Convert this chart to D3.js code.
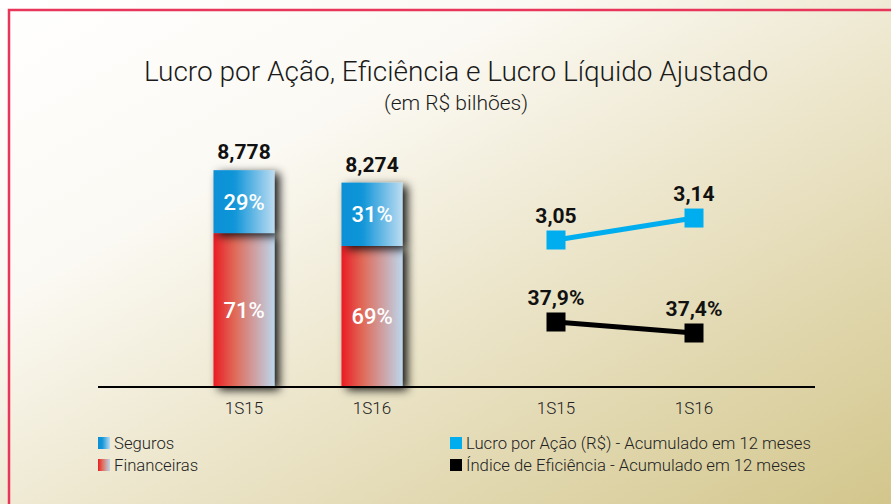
<!DOCTYPE html>
<html>
<head>
<meta charset="utf-8">
<script src="https://cdn.jsdelivr.net/npm/d3@7"></script>
<style>
  body { margin: 0; background: #fff; }
  svg { display: block; font-family: Roboto, "Open Sans", sans-serif; }
</style>
</head>
<body>
<div id="chart"></div>
<script>
// Dados do grafico
var barCategories = ["1S15", "1S16"];
var barTotals = [8.778, 8.274];
var barTotalLabels = ["8,778", "8,274"];
var segurosPct = [29, 31];
var financeirasPct = [71, 69];

var lineCategories = ["1S15", "1S16"];
var lucroPorAcao = [3.05, 3.14];
var lucroLabels = ["3,05", "3,14"];
var eficiencia = [37.9, 37.4];
var eficienciaLabels = ["37,9%", "37,4%"];

var W = 891, H = 504;
var svg = d3.select("#chart").append("svg")
    .attr("width", W)
    .attr("height", H);

var defs = svg.append("defs");

// fundo em degrade
var bg = defs.append("linearGradient").attr("id", "bg")
    .attr("x1", "0%").attr("y1", "0%").attr("x2", "100%").attr("y2", "100%");
bg.append("stop").attr("offset", "0%").attr("stop-color", "#ffffff");
bg.append("stop").attr("offset", "30%").attr("stop-color", "#fbf9f3");
bg.append("stop").attr("offset", "60%").attr("stop-color", "#eae3c6");
bg.append("stop").attr("offset", "100%").attr("stop-color", "#d3c68c");

var gBlue = defs.append("linearGradient").attr("id", "gBlue")
    .attr("x1", "0%").attr("x2", "100%").attr("y1", "0%").attr("y2", "0%");
gBlue.append("stop").attr("offset", "0%").attr("stop-color", "#0a8fd6");
gBlue.append("stop").attr("offset", "35%").attr("stop-color", "#1296d8");
gBlue.append("stop").attr("offset", "100%").attr("stop-color", "#bcdcf2");

var gRed = defs.append("linearGradient").attr("id", "gRed")
    .attr("x1", "0%").attr("x2", "100%").attr("y1", "0%").attr("y2", "0%");
gRed.append("stop").attr("offset", "0%").attr("stop-color", "#ea1c24");
gRed.append("stop").attr("offset", "35%").attr("stop-color", "#e06a58");
gRed.append("stop").attr("offset", "100%").attr("stop-color", "#bcd6ec");

var shadow = defs.append("filter").attr("id", "shadow")
    .attr("x", "-30%").attr("y", "-20%").attr("width", "180%").attr("height", "150%");
shadow.append("feDropShadow")
    .attr("dx", 5).attr("dy", 3)
    .attr("stdDeviation", 5)
    .attr("flood-color", "#000")
    .attr("flood-opacity", 0.9);

svg.append("rect")
    .attr("width", W).attr("height", H)
    .attr("fill", "url(#bg)");

// borda
svg.append("path")
    .attr("d", "M9,504 V10 H891")
    .attr("fill", "none")
    .attr("stroke", "#e8365a")
    .attr("stroke-width", 2.5);

// titulo
svg.append("text")
    .attr("x", 456).attr("y", 81)
    .attr("text-anchor", "middle")
    .attr("font-size", 28)
    .attr("font-weight", 300)
    .attr("fill", "#1a1a1a")
    .text("Lucro por Ação, Eficiência e Lucro Líquido Ajustado");

svg.append("text")
    .attr("x", 456).attr("y", 110)
    .attr("text-anchor", "middle")
    .attr("font-size", 21)
    .attr("font-weight", 300)
    .attr("fill", "#1a1a1a")
    .text("(em R$ bilhões)");

var baseY = 387;

// escalas das barras
var xBar = d3.scalePoint().domain(barCategories).range([244, 372]);
var barW = 61;
var yBar = d3.scaleLinear().domain([0, 10]).range([baseY, baseY - 247]);

var barData = barCategories.map(function(c, i) {
    return { cat: c, total: barTotals[i], label: barTotalLabels[i], seg: segurosPct[i], fin: financeirasPct[i] };
});

var bars = svg.selectAll(".bar").data(barData).enter()
    .append("g").attr("class", "bar");

// financeiras (parte de baixo)
bars.append("rect")
    .attr("x", function(d) { return xBar(d.cat) - barW / 2; })
    .attr("y", function(d) { return yBar(d.total * d.fin / 100); })
    .attr("width", barW)
    .attr("height", function(d) { return baseY - yBar(d.total * d.fin / 100); })
    .attr("fill", "url(#gRed)")
    .attr("filter", "url(#shadow)");

// seguros (parte de cima)
bars.append("rect")
    .attr("x", function(d) { return xBar(d.cat) - barW / 2; })
    .attr("y", function(d) { return yBar(d.total); })
    .attr("width", barW)
    .attr("height", function(d) { return yBar(d.total * d.fin / 100) - yBar(d.total); })
    .attr("fill", "url(#gBlue)")
    .attr("filter", "url(#shadow)");

bars.append("text")
    .attr("x", function(d) { return xBar(d.cat); })
    .attr("y", function(d) { return (yBar(d.total) + yBar(d.total * d.fin / 100)) / 2 + 8; })
    .attr("text-anchor", "middle")
    .attr("font-size", 22).attr("font-weight", 500)
    .attr("fill", "#fff")
    .text(function(d) { return d.seg + "%"; });

bars.append("text")
    .attr("x", function(d) { return xBar(d.cat); })
    .attr("y", function(d) { return (baseY + yBar(d.total * d.fin / 100)) / 2 + 8; })
    .attr("text-anchor", "middle")
    .attr("font-size", 22).attr("font-weight", 500)
    .attr("fill", "#fff")
    .text(function(d) { return d.fin + "%"; });

bars.append("text")
    .attr("x", function(d) { return xBar(d.cat); })
    .attr("y", function(d) { return yBar(d.total) - 11; })
    .attr("text-anchor", "middle")
    .attr("font-size", 21).attr("font-weight", 700)
    .attr("fill", "#111")
    .text(function(d) { return d.label; });

// linhas
var xLine = d3.scalePoint().domain(lineCategories).range([556, 694]);
var yLucro = d3.scaleLinear().domain([3.0, 3.2]).range([252.2, 203.4]);
var yEfic = d3.scaleLinear().domain([37.0, 38.5]).range([341.8, 308.8]);

function drawSeries(values, labels, yScale, color, cls) {
    var pts = values.map(function(v, i) { return { cat: lineCategories[i], v: v, label: labels[i] }; });
    svg.append("path")
        .datum(pts)
        .attr("fill", "none")
        .attr("stroke", color)
        .attr("stroke-width", 5)
        .attr("d", d3.line()
            .x(function(d) { return xLine(d.cat); })
            .y(function(d) { return yScale(d.v); }));
    svg.selectAll("." + cls).data(pts).enter()
        .append("rect").attr("class", cls)
        .attr("x", function(d) { return xLine(d.cat) - 9.5; })
        .attr("y", function(d) { return yScale(d.v) - 9.5; })
        .attr("width", 19).attr("height", 19)
        .attr("fill", color);
    svg.selectAll("." + cls + "-lbl").data(pts).enter()
        .append("text").attr("class", cls + "-lbl")
        .attr("x", function(d) { return xLine(d.cat); })
        .attr("y", function(d) { return yScale(d.v) - 17; })
        .attr("text-anchor", "middle")
        .attr("font-size", 21).attr("font-weight", 700)
        .attr("fill", "#111")
        .text(function(d) { return d.label; });
}
drawSeries(lucroPorAcao, lucroLabels, yLucro, "#00aeef", "lucro");
drawSeries(eficiencia, eficienciaLabels, yEfic, "#000000", "efic");

// eixo
svg.append("line")
    .attr("x1", 98).attr("x2", 815)
    .attr("y1", baseY).attr("y2", baseY)
    .attr("stroke", "#000").attr("stroke-width", 2);

var xTicks = barCategories.map(function(c) { return xBar(c); })
    .concat(lineCategories.map(function(c) { return xLine(c); }));
var tickLbls = barCategories.concat(lineCategories);
svg.selectAll(".tick-lbl").data(tickLbls).enter()
    .append("text").attr("class", "tick-lbl")
    .attr("x", function(d, i) { return xTicks[i]; })
    .attr("y", 414)
    .attr("text-anchor", "middle")
    .attr("font-size", 17)
    .attr("font-weight", 300)
    .attr("fill", "#222")
    .text(function(d) { return d; });

// legenda
var legend = [
    { x: 98, y: 443, fill: "url(#gBlue)", text: "Seguros" },
    { x: 98, y: 465, fill: "url(#gRed)", text: "Financeiras" },
    { x: 450, y: 443, fill: "#00aeef", text: "Lucro por Ação (R$) - Acumulado em 12 meses" },
    { x: 450, y: 465, fill: "#000", text: "Índice de Eficiência - Acumulado em 12 meses" }
];
var lg = svg.selectAll(".legend").data(legend).enter().append("g").attr("class", "legend");
lg.append("rect")
    .attr("x", function(d) { return d.x; })
    .attr("y", function(d) { return d.y - 6; })
    .attr("width", 12).attr("height", 12)
    .attr("fill", function(d) { return d.fill; });
lg.append("text")
    .attr("x", function(d) { return d.x + 16; })
    .attr("y", function(d) { return d.y + 6; })
    .attr("font-size", 16.7)
    .attr("font-weight", 300)
    .attr("fill", "#222")
    .text(function(d) { return d.text; });
</script>
</body>
</html>
